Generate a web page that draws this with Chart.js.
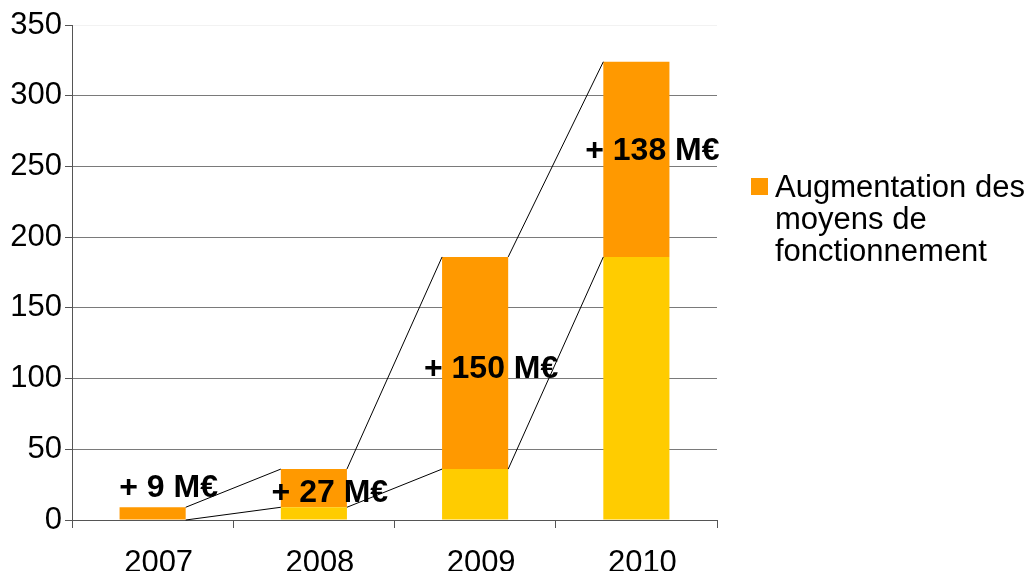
<!DOCTYPE html>
<html>
<head>
<meta charset="utf-8">
<title>Augmentation des moyens de fonctionnement</title>
<script src="https://cdn.jsdelivr.net/npm/chart.js@4.4.0/dist/chart.umd.min.js"></script>
<style>
    html, body { margin: 0; padding: 0; background: #ffffff; }
</style>
</head>
<body>
<canvas id="chart" width="1034" height="571"></canvas>
<script>
// chart data
const years = ['2007', '2008', '2009', '2010'];
const baseValues = [0, 9, 36, 186];          // cumulated amount of previous years
const increaseValues = [9, 27, 150, 138];    // yearly increase (M€)
const increaseLegend = ['Augmentation des', 'moyens de', 'fonctionnement'];
const yTicks = [0, 50, 100, 150, 200, 250, 300, 350];

const ORANGE = '#ff9900';
const YELLOW = '#ffcc00';
const FONT = '"Liberation Sans", Arial, sans-serif';

// small vertical nudges (px) of the value labels, as placed in the original slide
const LABEL_NUDGE = [0, 5, 6, -8];

/**
 * Thin black lines joining the tops of the segments from one bar to the next.
 */
const connectors = {
    id: 'connectors',
    afterDatasetsDraw(chart) {
        const ctx = chart.ctx;
        const y = chart.scales.y;
        const bars = chart.getDatasetMeta(1).data;
        ctx.save();
        ctx.strokeStyle = '#000000';
        ctx.lineWidth = 1;
        for (let i = 0; i < bars.length - 1; i++) {
            const x1 = bars[i].x + bars[i].width / 2;
            const x2 = bars[i + 1].x - bars[i + 1].width / 2;
            const top1 = baseValues[i] + increaseValues[i];
            const top2 = baseValues[i + 1] + increaseValues[i + 1];
            ctx.beginPath();
            ctx.moveTo(x1, y.getPixelForValue(top1));
            ctx.lineTo(x2, y.getPixelForValue(top2));
            ctx.moveTo(x1, y.getPixelForValue(baseValues[i]));
            ctx.lineTo(x2, y.getPixelForValue(baseValues[i + 1]));
            ctx.stroke();
        }
        ctx.restore();
    },
};

/**
 * "+ xx M€" labels drawn over the orange segments.
 */
const increaseLabels = {
    id: 'increaseLabels',
    afterDraw(chart) {
        const ctx = chart.ctx;
        const y = chart.scales.y;
        const bars = chart.getDatasetMeta(1).data;
        ctx.save();
        ctx.font = 'bold 32px ' + FONT;
        ctx.fillStyle = '#000000';
        ctx.textAlign = 'center';
        ctx.textBaseline = 'middle';
        bars.forEach((bar, i) => {
            const mid = baseValues[i] + increaseValues[i] / 2;
            const py = Math.min(y.getPixelForValue(mid), y.getPixelForValue(0) - 32);
            ctx.fillText('+ ' + increaseValues[i] + ' M€', bar.x + 16, py + LABEL_NUDGE[i]);
        });
        ctx.restore();
    },
};

/**
 * Legend on the right, wrapped on several lines like the original.
 */
const sideLegend = {
    id: 'sideLegend',
    afterDraw(chart) {
        const ctx = chart.ctx;
        const left = chart.chartArea.right + 34;
        ctx.save();
        ctx.fillStyle = ORANGE;
        ctx.fillRect(left, 178, 17, 17);
        ctx.fillStyle = '#000000';
        ctx.font = '31px ' + FONT;
        ctx.textAlign = 'left';
        ctx.textBaseline = 'alphabetic';
        increaseLegend.forEach((line, i) => {
            ctx.fillText(line, left + 24, 197 + i * 32);
        });
        ctx.restore();
    },
};

function init() {
    const canvas = document.getElementById('chart');
    new Chart(canvas.getContext('2d'), {
        type: 'bar',
        data: {
            labels: years,
            datasets: [
                {
                    label: 'Base',
                    data: baseValues,
                    backgroundColor: YELLOW,
                    borderWidth: 0,
                },
                {
                    label: increaseLegend.join(' '),
                    data: increaseValues,
                    backgroundColor: ORANGE,
                    borderWidth: 0,
                },
            ],
        },
        options: {
            responsive: false,
            animation: false,
            layout: {
                padding: { top: 25, right: 317, left: 0, bottom: 0 },
            },
            datasets: {
                bar: { categoryPercentage: 1.0, barPercentage: 0.41 },
            },
            scales: {
                x: {
                    stacked: true,
                    afterFit(scale) { scale.height = 51; },
                    grid: {
                        offset: true,
                        drawOnChartArea: false,
                        tickLength: 8,
                        color: '#555555',
                    },
                    border: { color: '#555555', width: 1 },
                    ticks: {
                        color: '#000000',
                        padding: 17,
                        labelOffset: 6,
                        font: { family: FONT, size: 31 },
                    },
                },
                y: {
                    stacked: true,
                    min: 0,
                    max: 350,
                    afterFit(scale) { scale.width = 72; },
                    afterBuildTicks(scale) {
                        scale.ticks = yTicks.map((v) => ({ value: v }));
                    },
                    grid: {
                        tickLength: 7,
                        color: (c) => (c.tick && c.tick.value === 350 ? '#f2f2f2' : '#7a7a7a'),
                        tickColor: '#555555',
                    },
                    border: { color: '#555555', width: 1 },
                    ticks: {
                        color: '#000000',
                        padding: 3,
                        font: { family: FONT, size: 31 },
                    },
                },
            },
            plugins: {
                legend: { display: false },
                tooltip: { enabled: false },
            },
        },
        plugins: [connectors, increaseLabels, sideLegend],
    });
}

document.addEventListener('DOMContentLoaded', init);
</script>
</body>
</html>
